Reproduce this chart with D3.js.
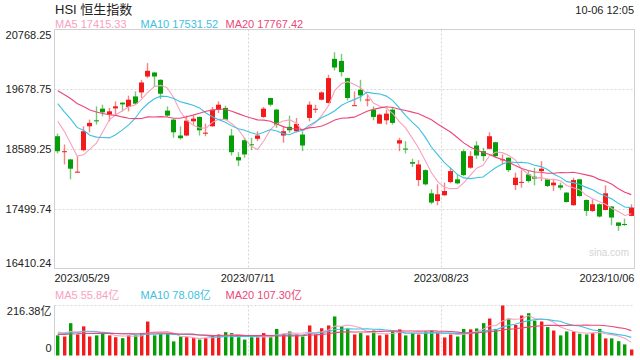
<!DOCTYPE html>
<html><head><meta charset="utf-8">
<script src="https://cdn.jsdelivr.net/npm/d3@7"></script>
<style>
body{margin:0;background:#fff}
svg{display:block;font-family:"Liberation Sans",Arial,"Noto Sans CJK SC",sans-serif}
</style>
</head><body>
<svg id="c" width="640" height="360"></svg>
<script>
// ---------- data ----------
const dates = [
"2023-05-29","2023-05-30","2023-05-31","2023-06-01","2023-06-02","2023-06-05","2023-06-06","2023-06-07","2023-06-08","2023-06-09",
"2023-06-12","2023-06-13","2023-06-14","2023-06-15","2023-06-16","2023-06-19","2023-06-20","2023-06-21","2023-06-23","2023-06-26",
"2023-06-27","2023-06-28","2023-06-29","2023-06-30","2023-07-03","2023-07-04","2023-07-05","2023-07-06","2023-07-07","2023-07-10",
"2023-07-11","2023-07-12","2023-07-13","2023-07-14","2023-07-18","2023-07-19","2023-07-20","2023-07-21","2023-07-24","2023-07-25",
"2023-07-26","2023-07-27","2023-07-28","2023-07-31","2023-08-01","2023-08-02","2023-08-03","2023-08-04","2023-08-07","2023-08-08",
"2023-08-09","2023-08-10","2023-08-11","2023-08-14","2023-08-15","2023-08-16","2023-08-17","2023-08-18","2023-08-21","2023-08-22",
"2023-08-23","2023-08-24","2023-08-25","2023-08-28","2023-08-29","2023-08-30","2023-08-31","2023-09-04","2023-09-05","2023-09-06",
"2023-09-07","2023-09-11","2023-09-12","2023-09-13","2023-09-14","2023-09-15","2023-09-18","2023-09-19","2023-09-20","2023-09-21",
"2023-09-22","2023-09-25","2023-09-26","2023-09-27","2023-09-28","2023-09-29","2023-10-03","2023-10-04","2023-10-05","2023-10-06"];

const open = [18822,18535,18399,18166,18568,19003,19112,19325,19216,19330,
19434,19356,19548,19621,19911,19984,19851,19289,19125,18835,
18835,19094,19174,18878,19003,19307,19338,18835,18441,18749,
18675,18775,19174,19519,19307,18835,18993,18913,18853,19156,
19316,19488,19428,20233,20196,19882,19381,19670,19483,19307,
19052,19112,19307,18689,18597,18350,18023,18204,17781,17642,
17745,17987,18036,18549,18248,18653,18549,18593,18713,18395,
18430,17932,17983,18126,18085,18186,18036,17927,17927,17794,
17564,18036,17660,17460,17582,17478,17540,17249,17222,17369];
const high = [18871,18671,18411,18459,19003,19125,19367,19397,19338,19457,
19439,19561,19639,19851,20155,19990,19860,19367,19135,19003,
19198,19198,19180,19052,19356,19457,19379,18956,18531,18793,
18793,18913,19356,19525,19319,19003,19198,19156,18913,19457,
19397,19639,19942,20354,20324,19890,19639,19851,19579,19367,
19234,19307,19356,18793,18731,18411,18386,18217,17854,17945,
17976,18248,18126,18580,18549,18731,18611,18894,18720,18490,
18436,18157,18204,18186,18248,18368,18050,18023,17976,17806,
18066,18045,17668,17672,17600,17927,17548,17255,17322,17582];
const low = [18508,18308,18036,18160,18549,18894,19034,19185,19094,19216,
19276,19276,19397,19519,19882,19730,19501,19174,18793,18762,
18822,19034,18835,18822,18995,19247,19112,18471,18277,18430,
18568,18731,19156,19367,18974,18702,18884,18894,18549,19094,
19247,19476,19420,20020,19911,19476,19375,19457,19367,19112,
19048,19034,19034,18549,18508,18259,17914,17927,17582,17564,
17740,17963,17945,18096,18230,18411,18368,18580,18435,18308,
18168,17841,17885,17976,17927,18005,17896,17823,17841,17613,
17558,17720,17369,17442,17340,17470,17200,17097,17188,17365];
const close = [18549,18549,18230,18176,18913,19065,19101,19258,19276,19367,
19403,19488,19416,19802,20015,19911,19597,19198,18894,18786,
19107,19143,18931,18887,19307,19397,19125,18531,18381,18490,
18668,18835,19325,19397,19034,18913,18931,19047,18653,19397,
19323,19621,19882,20075,19991,19519,19388,19566,19492,19174,
19216,19234,19065,18749,18589,18321,18308,17945,17613,17763,
17823,18186,17963,18114,18459,18471,18459,18822,18459,18402,
18204,18066,17990,18005,18048,18230,17914,17976,17885,17623,
18023,17732,17460,17582,17358,17781,17340,17188,17215,17522];
// turnover, 亿
const volume = [87,82,140,91,126,82,87,94,87,79,
75,87,87,97,147,87,94,94,61,82,
79,75,69,76,85,91,101,97,79,69,
79,79,97,79,115,94,104,91,82,130,
91,118,130,169,126,116,91,97,87,108,
87,91,104,113,87,97,91,104,108,97,
78,91,82,115,113,117,140,160,115,216.38,
160,132,173,183,151,147,123,108,87,104,
104,94,91,97,115,74,74,62,48,26];
// the 19 sessions before the window (needed for the moving averages)
const preClose = [19930,19700,19950,20050,20300,19870,19760,19740,19630,19952,
19980,19560,19730,19450,19950,19450,19330,19350,18800];
const preVolume = [85,92,80,95,88,90,78,96,86,90,84,92,80,95,84,98,110,102,108];

const priceTicks = [20768.25,19678.75,18589.25,17499.74,16410.24];
const volTicks = [216.38,0];
const xTickDates = ["2023-05-29","2023-07-11","2023-08-23","2023-10-06"];
const xTickLabels = ["2023/05/29","2023/07/11","2023/08/23","2023/10/06"];
const maPeriods = [5,10,20];
const maNames = ["MA5","MA10","MA20"];
const priceLegend = [17415.33,17531.52,17767.42];
const volLegend = [55.84,78.08,107.30];
const title = "HSI 恒生指数";
const stamp = "10-06 12:05";

// ---------- styles ----------
const RED="#f21a1a", GREEN="#069e06";
const maColors=["#f9a0bf","#3dc1e1","#ec4778"];
const L=54.5, R=634.5, PT=29.5, PB=268.5, VT=305.5, VB=355.5;

const svg=d3.select("#c");
const n=dates.length;
const x=d3.scaleBand().domain(dates).range([L,R]).paddingInner(0).paddingOuter(0);
const cx=i=>x(dates[i])+x.bandwidth()/2;
const y=d3.scaleLinear().domain([priceTicks[4],priceTicks[0]]).range([PB,PT]);
const yv=d3.scaleLinear().domain([0,volTicks[0]]).range([VB,VT]);

function ma(all,pre,p){
  return d3.range(n).map(i=>d3.mean(all.slice(i+pre-p+1,i+pre+1)));
}
const allC=preClose.concat(close), allV=preVolume.concat(volume);
const priceMA=maPeriods.map(p=>ma(allC,preClose.length,p));
const volMA=maPeriods.map(p=>ma(allV,preVolume.length,p));

// ---------- header ----------
svg.append("text").attr("x",55).attr("y",14).attr("font-size",13).attr("fill","#222").text(title);
svg.append("text").attr("x",634).attr("y",14).attr("text-anchor","end").attr("font-size",11).attr("fill","#222").text(stamp);
const legX=[55,140.5,225.5];
maNames.forEach((m,k)=>{
  svg.append("text").attr("x",legX[k]).attr("y",27.5).attr("font-size",11).attr("fill",maColors[k])
    .text(m+" "+priceLegend[k].toFixed(2));
  svg.append("text").attr("x",legX[k]).attr("y",299).attr("font-size",11).attr("fill",maColors[k])
    .text(m+" "+volLegend[k].toFixed(2)+"亿");
});

// ---------- price grid ----------
const grid=svg.append("g");
priceTicks.slice(1,4).forEach(t=>{
  const yy=Math.round(y(t))+0.5;
  grid.append("line").attr("x1",L).attr("x2",R).attr("y1",yy).attr("y2",yy)
    .attr("stroke","#d6d6d6").attr("stroke-dasharray","2,2");
});
const vx=xTickDates.slice(1,3).map(d=>Math.round(x(d))+0.5);
vx.forEach(xx=>{
  grid.append("line").attr("x1",xx).attr("x2",xx).attr("y1",PT).attr("y2",PB)
    .attr("stroke","#d6d6d6").attr("stroke-dasharray","2,2");
  grid.append("line").attr("x1",xx).attr("x2",xx).attr("y1",VT).attr("y2",VB)
    .attr("stroke","#d6d6d6").attr("stroke-dasharray","2,2");
});
grid.append("rect").attr("x",L).attr("y",PT).attr("width",R-L).attr("height",PB-PT)
  .attr("fill","none").attr("stroke","#d0d0d0");
grid.append("line").attr("x1",L).attr("x2",R).attr("y1",VT).attr("y2",VT)
  .attr("stroke","#d6d6d6").attr("stroke-dasharray","2,2");
grid.append("line").attr("x1",L).attr("x2",L).attr("y1",VT).attr("y2",VB).attr("stroke","#d0d0d0");

svg.append("text").attr("x",629).attr("y",256).attr("text-anchor","end").attr("font-size",10)
  .attr("fill","#d4d4d4").text("sina.com");

// ---------- y labels ----------
priceTicks.forEach((t,k)=>{
  let yy=y(t)+4;
  if(k===0) yy=y(t)+9; if(k===priceTicks.length-1) yy=y(t)-1.5;
  svg.append("text").attr("x",51.5).attr("y",yy).attr("text-anchor","end").attr("font-size",11)
    .attr("fill","#222").text(t.toFixed(2));
});
svg.append("text").attr("x",51.5).attr("y",yv(volTicks[0])+9).attr("text-anchor","end").attr("font-size",11)
  .attr("fill","#222").text(volTicks[0].toFixed(2)+"亿");
svg.append("text").attr("x",51.5).attr("y",yv(0)-3.5).attr("text-anchor","end").attr("font-size",11)
  .attr("fill","#222").text("0");

// ---------- x labels ----------
xTickDates.forEach((d,k)=>{
  let xx, anchor="middle";
  if(k===0){xx=x(d);anchor="start";}
  else if(k===xTickDates.length-1){xx=R;anchor="end";}
  else xx=x(d);
  svg.append("text").attr("x",xx).attr("y",281.5).attr("text-anchor",anchor).attr("font-size",11)
    .attr("fill","#222").text(xTickLabels[k]);
});

// ---------- candles ----------
const cg=svg.append("g");
d3.range(n).forEach(i=>{
  const up=close[i]>=open[i], col=up?RED:GREEN;
  const xc=Math.floor(cx(i));
  cg.append("line").attr("x1",xc+0.5).attr("x2",xc+0.5).attr("y1",y(high[i])).attr("y2",y(low[i]))
    .attr("stroke",col).attr("stroke-opacity",0.55).attr("stroke-width",1.4);
  const y1=y(Math.max(open[i],close[i])), y2=y(Math.min(open[i],close[i]));
  cg.append("rect").attr("x",xc-2).attr("width",5).attr("y",y1).attr("height",Math.max(1,y2-y1))
    .attr("fill",col);
});

// ---------- price MA ----------
const line=d3.line().x((d,i)=>cx(i)).y(d=>y(d));
priceMA.forEach((arr,k)=>{
  svg.append("path").attr("d",line(arr)).attr("fill","none").attr("stroke",maColors[k]).attr("stroke-width",1.1);
});

// ---------- volume ----------
const vg=svg.append("g");
d3.range(n).forEach(i=>{
  const up=close[i]>=open[i];
  const xc=Math.floor(cx(i));
  vg.append("rect").attr("x",xc-1).attr("width",3.4).attr("y",yv(volume[i])).attr("height",VB-yv(volume[i]))
    .attr("fill",up?RED:GREEN);
});
const vline=d3.line().x((d,i)=>cx(i)).y(d=>yv(d));
volMA.forEach((arr,k)=>{
  svg.append("path").attr("d",vline(arr)).attr("fill","none").attr("stroke",maColors[k]).attr("stroke-width",1.1);
});
</script>
</body></html>
